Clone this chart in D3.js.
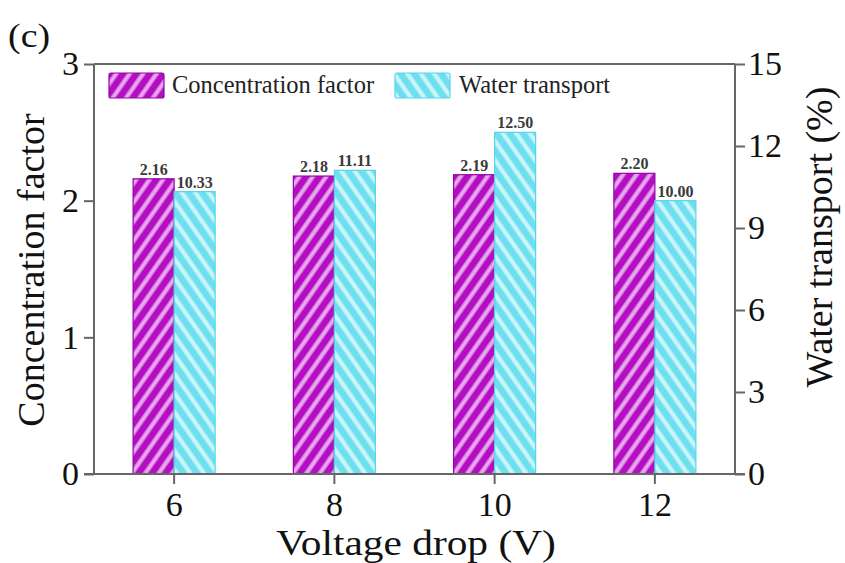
<!DOCTYPE html>
<html><head><meta charset="utf-8">
<script src="https://cdn.jsdelivr.net/npm/d3@7"></script>
<style>
body{margin:0;background:#fff;}
svg{display:block;font-family:"Liberation Serif","Times New Roman",serif;}
</style></head>
<body><svg id="chart" width="845" height="563"></svg>
<script>
const categories = ["6","8","10","12"];
const concentrationFactor = [2.16, 2.18, 2.19, 2.20];
const waterTransport = [10.33, 11.11, 12.50, 10.00];
const leftTicks = [0,1,2,3];
const rightTicks = [0,3,6,9,12,15];
const seriesNames = ["Concentration factor","Water transport"];

const svg = d3.select("#chart");
const m = {l:94, r:735, t:64, b:474};

const defs = svg.append("defs");
function hatch(id, base, stripe, angle){
  const p = defs.append("pattern").attr("id",id).attr("patternUnits","userSpaceOnUse")
    .attr("width",11).attr("height",11).attr("patternTransform",`rotate(${angle})`);
  p.append("rect").attr("width",11).attr("height",11).attr("fill",base);
  p.append("rect").attr("x",3).attr("width",5).attr("height",11).attr("fill",stripe).attr("opacity",0.6);
  p.append("rect").attr("x",4.5).attr("width",2).attr("height",11).attr("fill",stripe);
}
hatch("hp","#b40ec2","#efb8f4",35);
hatch("hc","#6ddfee","#d6f8fc",-35);

const x = d3.scaleBand().domain(categories).range([m.l,m.r]).padding(0);
const x1 = d3.scaleBand().domain(seriesNames).range([0,82]);
const yL = d3.scaleLinear().domain([0,3]).range([m.b,m.t]);
const yR = d3.scaleLinear().domain([0,15]).range([m.b,m.t]);

const g = svg.append("g");
categories.forEach((c,i)=>{
  const cx = x(c)+x.bandwidth()/2 - 41;
  const v1 = concentrationFactor[i], v2 = waterTransport[i];
  g.append("rect").attr("x",cx+x1(seriesNames[0])).attr("y",yL(v1))
    .attr("width",x1.bandwidth()).attr("height",yL(0)-yL(v1))
    .attr("fill","url(#hp)").attr("stroke","#9400a6").attr("stroke-width",1.2);
  g.append("rect").attr("x",cx+x1(seriesNames[1])).attr("y",yR(v2))
    .attr("width",x1.bandwidth()).attr("height",yR(0)-yR(v2))
    .attr("fill","url(#hc)").attr("stroke","#55d6e8").attr("stroke-width",1.2);
  g.append("text").attr("x",cx+x1(seriesNames[0])+x1.bandwidth()/2).attr("y",yL(v1)-4)
    .attr("text-anchor","middle").attr("font-size",16).attr("font-weight","bold").attr("fill","#3a3a3a")
    .text(v1.toFixed(2));
  g.append("text").attr("x",cx+x1(seriesNames[1])+x1.bandwidth()/2).attr("y",yR(v2)-4)
    .attr("text-anchor","middle").attr("font-size",16).attr("font-weight","bold").attr("fill","#3a3a3a")
    .text(v2.toFixed(2));
});

svg.append("line").attr("x1",m.l).attr("x2",m.r).attr("y1",m.t).attr("y2",m.t)
  .attr("stroke","#666").attr("stroke-width",2);

const axL = svg.append("g").attr("transform",`translate(${m.l},0)`)
  .call(d3.axisLeft(yL).tickValues(leftTicks).tickSize(10).tickPadding(5).tickFormat(d3.format("d")));
const axR = svg.append("g").attr("transform",`translate(${m.r},0)`)
  .call(d3.axisRight(yR).tickValues(rightTicks).tickSize(10).tickPadding(3).tickFormat(d3.format("d")));
const axB = svg.append("g").attr("transform",`translate(0,${m.b})`)
  .call(d3.axisBottom(x).tickSize(10).tickPadding(8).tickSizeOuter(0));
axB.select(".domain").attr("d",`M${m.l-10},0H${m.r+10}`);
[axL,axR,axB].forEach(a=>{
  a.selectAll(".domain").attr("stroke","#666").attr("stroke-width",2);
  a.selectAll(".tick line").attr("stroke","#666").attr("stroke-width",2);
  a.selectAll(".tick text").attr("font-size",34).attr("fill","#111")
   .attr("font-family","'Liberation Serif','Times New Roman',serif");
});
axL.select(".domain").attr("d",`M0,${m.t}V${m.b}`);
axR.select(".domain").attr("d",`M0,${m.t}V${m.b}`);
axB.selectAll(".tick text").attr("dy","0.72em");

svg.append("text").attr("transform","translate(416,555) scale(1.15,1)").attr("text-anchor","middle")
  .attr("font-size",36).attr("fill","#111").text("Voltage drop (V)");
svg.append("text").attr("transform","translate(44,270) rotate(-90)").attr("text-anchor","middle")
  .attr("font-size",38).attr("fill","#111").text("Concentration factor");
svg.append("text").attr("transform","translate(832,237) rotate(-90)").attr("text-anchor","middle")
  .attr("font-size",38).attr("fill","#111").text("Water transport (%)");
svg.append("text").attr("transform","translate(8,47) scale(1.15,1)").attr("font-size",33).attr("fill","#111").text("(c)");

const leg = svg.append("g");
leg.append("rect").attr("x",109).attr("y",73).attr("width",55).attr("height",25)
  .attr("fill","url(#hp)").attr("stroke","#9400a6").attr("stroke-width",1.2).attr("rx",2);
leg.append("text").attr("x",172).attr("y",93).attr("font-size",24.5).attr("fill","#222").text(seriesNames[0]);
leg.append("rect").attr("x",395).attr("y",73).attr("width",55).attr("height",25)
  .attr("fill","url(#hc)").attr("stroke","#55d6e8").attr("stroke-width",1.2).attr("rx",2);
leg.append("text").attr("x",459).attr("y",93).attr("font-size",24.5).attr("fill","#222").text(seriesNames[1]);
</script></body></html>
